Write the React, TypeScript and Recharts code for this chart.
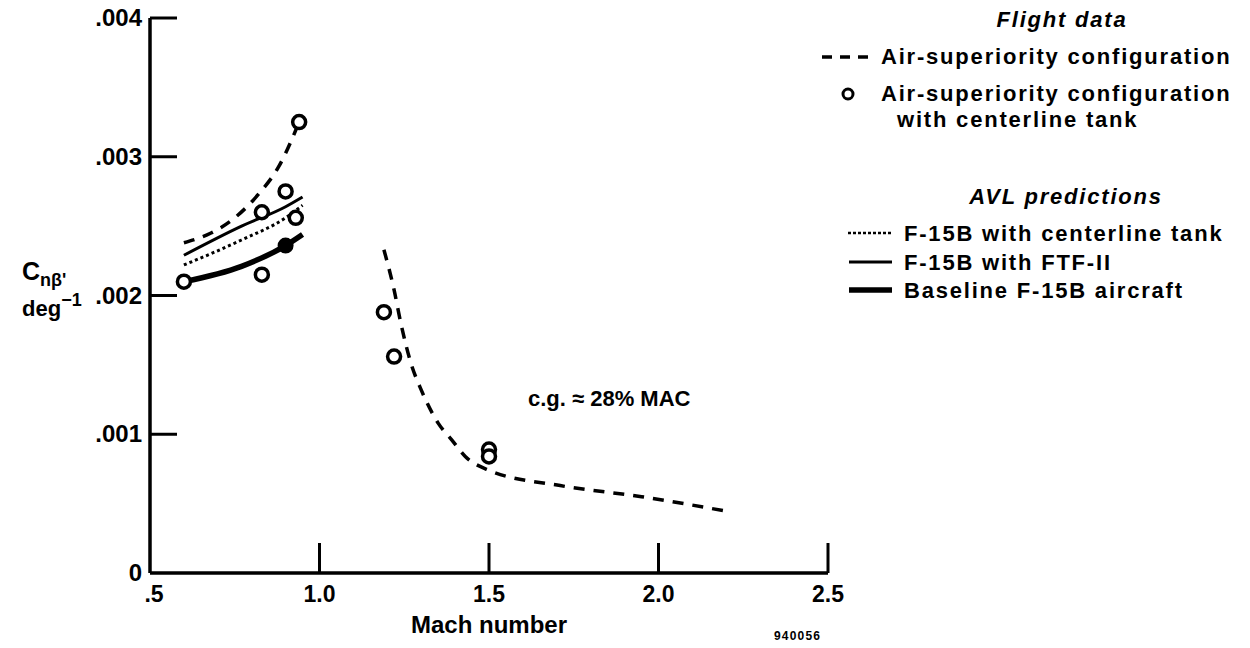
import { ComposedChart, Line, Scatter, XAxis, YAxis } from "recharts";

// flight data, air-superiority configuration (dashed)
const subsonicMach = [0.6, 0.68, 0.75, 0.82, 0.88, 0.94];
const subsonicCn = [0.00238, 0.00245, 0.00256, 0.00273, 0.00293, 0.00325];
const supersonicMach = [1.19, 1.22, 1.24, 1.27, 1.3, 1.35, 1.39, 1.43, 1.5, 1.71, 1.95, 2.19];
const supersonicCn = [0.00233, 0.00204, 0.0018, 0.00151, 0.00132, 0.00108, 0.00096, 0.00084, 0.00074, 0.00063, 0.00055, 0.00045];

// flight data with centerline tank (circles)
const tankMach = [0.6, 0.83, 0.83, 0.9, 0.93, 0.94, 1.19, 1.22, 1.5, 1.5];
const tankCn = [0.0021, 0.0026, 0.00215, 0.00275, 0.00256, 0.00325, 0.00188, 0.00156, 0.00089, 0.00084];
const filledMach = [0.9];
const filledCn = [0.00236];

// AVL predictions
const avlMach = [0.6, 0.77, 0.9, 0.95];
const avlTank = [0.00222, 0.0024, 0.00256, 0.00265];
const avlFtf = [0.00229, 0.0025, 0.00264, 0.00271];
const avlBaseline = [0.0021, 0.00221, 0.00236, 0.00244];

const machTicks = [0.5, 1.0, 1.5, 2.0, 2.5];
const cnTicks = [0, 0.001, 0.002, 0.003, 0.004];

const zip = (xs: number[], ys: number[]) => xs.map((mach, i) => ({ mach, cn: ys[i] }));

const FONT = "'Liberation Sans', Arial, sans-serif";

function YTick(props: any) {
  const { x, y, payload } = props;
  const axisX = x + 8;
  const label = payload.value === 0 ? "0" : payload.value.toFixed(3).replace(/^0/, "");
  return (
    <g>
      {payload.value > 0 && <line x1={axisX} x2={axisX + 27} y1={y} y2={y} stroke="#000" strokeWidth={3} />}
      <text x={x} y={y} dy={8} textAnchor="end" fontFamily={FONT} fontWeight="bold" fontSize={24} fill="#000">
        {label}
      </text>
    </g>
  );
}

function XTick(props: any) {
  const { x, y, payload } = props;
  const axisY = y - 10;
  const label = payload.value === 0.5 ? ".5" : payload.value.toFixed(1);
  return (
    <g>
      {payload.value > 0.5 && <line x1={x} x2={x} y1={axisY} y2={axisY - 30} stroke="#000" strokeWidth={3} />}
      <text x={x + (payload.value === 0.5 ? 4 : 0)} y={y} dy={19} textAnchor="middle" fontFamily={FONT} fontWeight="bold" fontSize={23} fill="#000">
        {label}
      </text>
    </g>
  );
}

const legendText = { fontFamily: FONT, fontWeight: "bold" as const, fontSize: 22, fill: "#000", letterSpacing: 1.8 };

export default function App() {
  return (
    <div style={{ position: "absolute", left: 0, top: 0, width: 1250, height: 648, background: "#fff" }}>
      <ComposedChart width={1250} height={648} margin={{ top: 18, right: 422, bottom: 5, left: 0 }}>
        <XAxis
          type="number"
          dataKey="mach"
          domain={[0.5, 2.5]}
          ticks={machTicks}
          interval={0}
          tickSize={0}
          tickMargin={10}
          tickLine={false}
          axisLine={{ stroke: "#000", strokeWidth: 3.5 }}
          tick={<XTick />}
          height={70}
          allowDataOverflow
          label={{ value: "Mach number", position: "insideBottom", offset: 10, style: { fontFamily: FONT, fontWeight: "bold", fontSize: 24, fill: "#000" } }}
        />
        <YAxis
          type="number"
          domain={[0, 0.004]}
          ticks={cnTicks}
          interval={0}
          width={150}
          tickSize={0}
          tickMargin={8}
          tickLine={false}
          axisLine={{ stroke: "#000", strokeWidth: 3.5 }}
          tick={<YTick />}
          allowDataOverflow
        />
        <Line data={zip(avlMach, avlTank)} dataKey="cn" type="monotone" stroke="#000" strokeWidth={3} strokeDasharray="3 3" dot={false} isAnimationActive={false} />
        <Line data={zip(avlMach, avlFtf)} dataKey="cn" type="monotone" stroke="#000" strokeWidth={3} dot={false} isAnimationActive={false} />
        <Line data={zip(avlMach, avlBaseline)} dataKey="cn" type="monotone" stroke="#000" strokeWidth={5.5} dot={false} isAnimationActive={false} />
        <Line data={zip(subsonicMach, subsonicCn)} dataKey="cn" type="monotone" stroke="#000" strokeWidth={3.5} strokeDasharray="11 9" dot={false} isAnimationActive={false} />
        <Line data={zip(supersonicMach, supersonicCn)} dataKey="cn" type="monotone" stroke="#000" strokeWidth={3.5} strokeDasharray="11 9" dot={false} isAnimationActive={false} />
        <Scatter
          data={zip(tankMach, tankCn)}
          dataKey="cn"
          isAnimationActive={false}
          shape={(p: any) => <circle cx={p.cx} cy={p.cy} r={6.5} fill="#fff" stroke="#000" strokeWidth={3.5} />}
        />
        <Scatter
          data={zip(filledMach, filledCn)}
          dataKey="cn"
          isAnimationActive={false}
          shape={(p: any) => <circle cx={p.cx} cy={p.cy} r={7} fill="#000" stroke="#000" strokeWidth={2} />}
        />
      </ComposedChart>

      <svg width={1250} height={648} style={{ position: "absolute", left: 0, top: 0, pointerEvents: "none" }}>
        {/* y axis title */}
        <text x={22} y={280} fontFamily={FONT} fontWeight="bold" fontSize={25} fill="#000">
          C
          <tspan fontSize={18} dy={6}>nβ'</tspan>
        </text>
        <text x={22} y={316} fontFamily={FONT} fontWeight="bold" fontSize={22} fill="#000">
          deg
          <tspan fontSize={18} dy={-10}>−1</tspan>
        </text>

        <text x={528} y={406} fontFamily={FONT} fontWeight="bold" fontSize={22} fill="#000">
          c.g. ≈ 28% MAC
        </text>
        <text x={774} y={640} fontFamily={FONT} fontWeight="bold" fontSize={12} letterSpacing={1.2} fill="#000">
          940056
        </text>

        {/* legend */}
        <text x={1062} y={27} textAnchor="middle" fontStyle="italic" {...legendText}>Flight data</text>
        <line x1={822} x2={872} y1={57} y2={57} stroke="#000" strokeWidth={3.5} strokeDasharray="10 8" />
        <text x={881} y={64} {...legendText}>Air-superiority configuration</text>
        <circle cx={848} cy={94} r={5} fill="#fff" stroke="#000" strokeWidth={3} />
        <text x={881} y={101} {...legendText}>Air-superiority configuration</text>
        <text x={897} y={127} {...legendText}>with centerline tank</text>

        <text x={1066} y={204} textAnchor="middle" fontStyle="italic" {...legendText}>AVL predictions</text>
        <line x1={848} x2={893} y1={233} y2={233} stroke="#000" strokeWidth={2.5} strokeDasharray="3 2" />
        <text x={904} y={241} {...legendText}>F-15B with centerline tank</text>
        <line x1={849} x2={892} y1={262} y2={262} stroke="#000" strokeWidth={3} />
        <text x={904} y={270} {...legendText}>F-15B with FTF-II</text>
        <line x1={849} x2={892} y1={290} y2={290} stroke="#000" strokeWidth={5.5} />
        <text x={904} y={298} {...legendText}>Baseline F-15B aircraft</text>
      </svg>
    </div>
  );
}
